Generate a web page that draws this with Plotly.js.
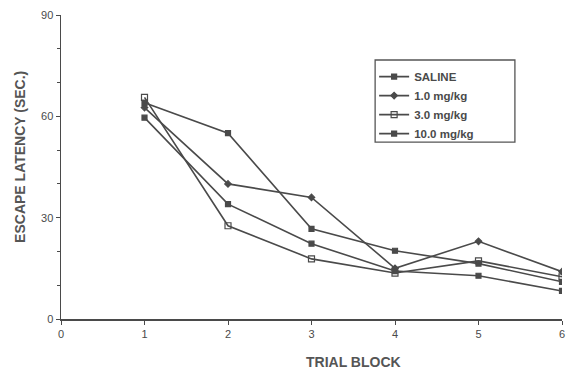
<!DOCTYPE html>
<html><head><meta charset="utf-8">
<script src="https://cdn.plot.ly/plotly-3.0.1.min.js"></script>
<style>html,body{margin:0;padding:0;background:#fff}#c{width:572px;height:370px}</style>
</head><body><div id="c"></div>
<script>
const trialBlocks = [1, 2, 3, 4, 5, 6];
const seriesNames = ["SALINE", "1.0 mg/kg", "3.0 mg/kg", "10.0 mg/kg"];
const saline = [64, 55, 26.7, 20.2, 16.4, 11];
const dose1 = [62.6, 40, 36, 15, 23, 14];
const dose3 = [65.6, 27.6, 17.8, 13.6, 17.2, 12.5];
const dose10 = [59.6, 34, 22.3, 14.2, 12.8, 8.3];
const xTicks = [0, 1, 2, 3, 4, 5, 6];
const yTicks = [0, 30, 60, 90];

const ink = "#4a4a4a";
const allY = [saline, dose1, dose3, dose10];
const symbols = ["square", "diamond", "square-open", "square"];
const traces = allY.map((ys, i) => ({
  x: trialBlocks, y: ys, name: seriesNames[i], type: "scatter", mode: "lines+markers",
  line: {color: ink, width: 1.6},
  marker: {symbol: symbols[i], size: i === 2 ? 6 : 5, color: ink, line: {color: ink, width: 1.2}}
}));

const layout = {
  width: 572, height: 370,
  margin: {l: 61, r: 10, t: 15, b: 51},
  paper_bgcolor: "#fff", plot_bgcolor: "#fff",
  font: {family: "Liberation Sans, Arial, sans-serif", color: "#555", size: 9},
  showlegend: true,
  legend: {x: 0.625, y: 0.845, xanchor: "left", yanchor: "top", borderwidth: 0,
    font: {size: 11.5, color: "#4a4a4a", weight: "bold"}, bgcolor: "rgba(255,255,255,0)", tracegroupgap: 0, itemwidth: 30},
  shapes: [
    {type: "rect", xref: "paper", yref: "paper", x0: 0.627, x1: 0.906, y0: 0.582, y1: 0.852,
      line: {color: "#555", width: 1.3}, fillcolor: "rgba(0,0,0,0)"}
  ],
  xaxis: {range: [0, 6], tickvals: xTicks, ticktext: xTicks.map(String), showgrid: false, zeroline: false,
    showline: true, linecolor: ink, linewidth: 1.5, ticks: "outside", ticklen: 4, tickcolor: ink, tickfont: {size: 11, color: "#4a4a4a"}},
  yaxis: {range: [0, 90], tickvals: yTicks, ticktext: yTicks.map(String), showgrid: false, zeroline: false,
    showline: true, linecolor: ink, linewidth: 1.5, ticks: "outside", ticklen: 4, tickcolor: ink, tickfont: {size: 11, color: "#4a4a4a"},
    minor: {dtick: 10, ticks: "outside", ticklen: 3, tickcolor: ink}},
  annotations: [
    {text: "<b>TRIAL BLOCK</b>", xref: "paper", yref: "paper", x: 0.583, y: -0.142, xanchor: "center", yanchor: "middle",
      showarrow: false, font: {size: 14, color: "#555"}},
    {text: "<b>ESCAPE LATENCY (SEC.)</b>", xref: "paper", yref: "paper", x: -0.082, y: 0.533, xanchor: "center", yanchor: "middle",
      textangle: -90, showarrow: false, font: {size: 14, color: "#555"}}
  ]
};
Plotly.newPlot("c", traces, layout, {staticPlot: true});
</script></body></html>
